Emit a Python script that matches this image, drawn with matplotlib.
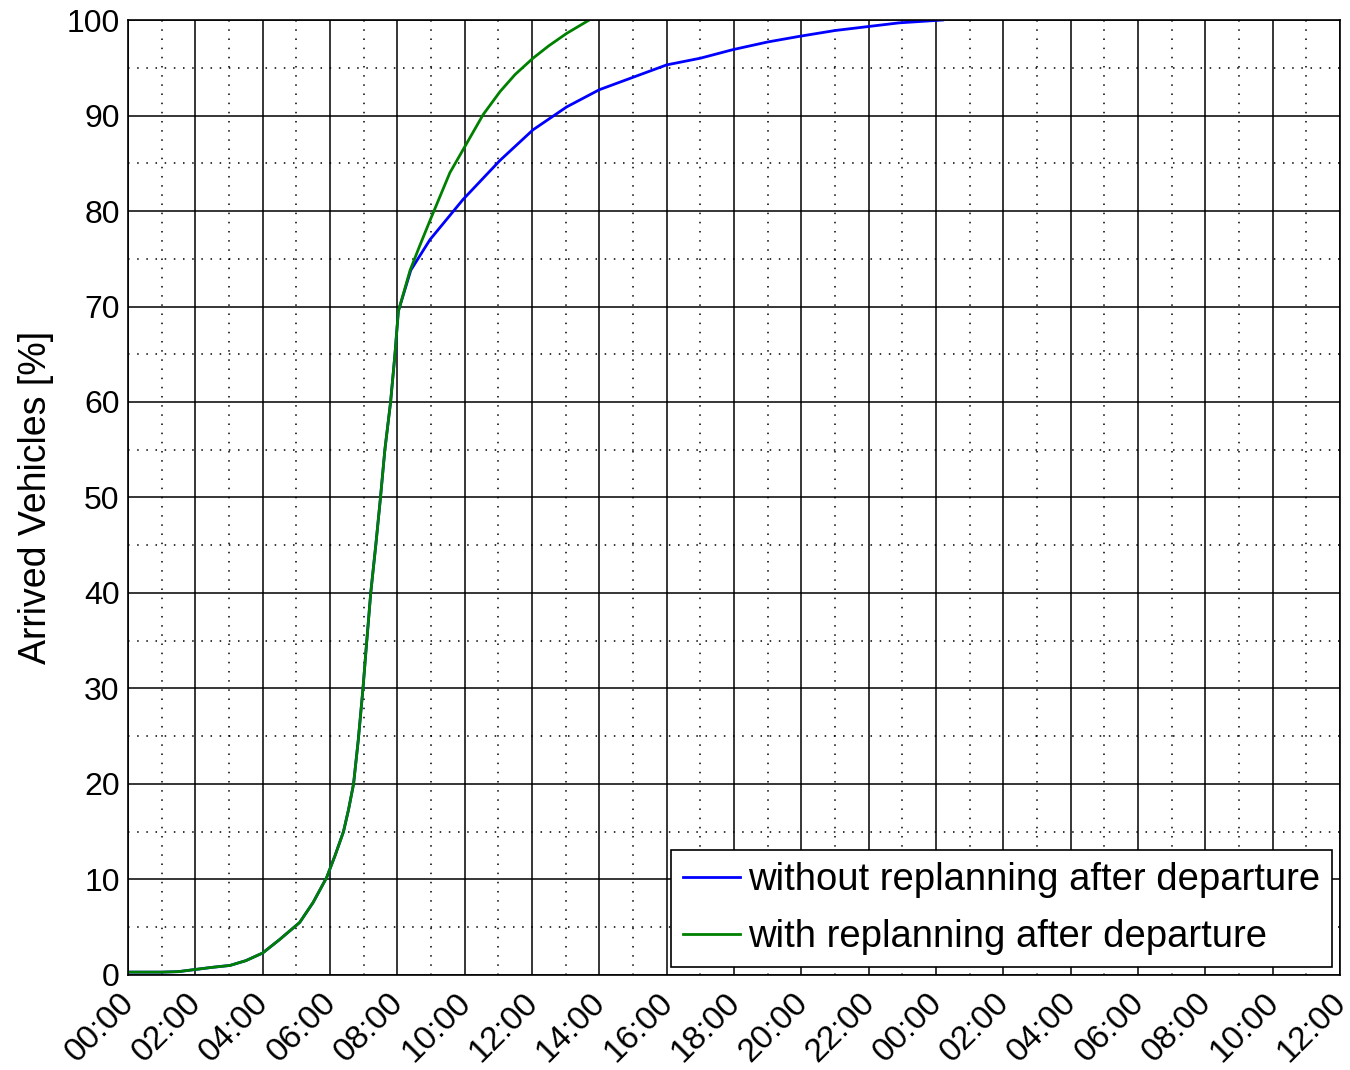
import matplotlib
matplotlib.use("Agg")
import matplotlib.pyplot as plt
from matplotlib.ticker import MultipleLocator
from matplotlib.transforms import ScaledTranslation

plt.rcParams["font.family"] = ["Liberation Sans", "DejaVu Sans"]

# shared part (both runs identical until ~08:00), hours since 00:00 -> % arrived
shared_h = [0.0, 1.0, 1.5, 2.05, 2.5, 3.03, 3.5, 4.0, 4.5, 5.1, 5.5, 5.9,
            6.15, 6.4, 6.55, 6.7, 6.84, 6.98, 7.07, 7.21, 7.36, 7.5, 7.63,
            7.8, 7.93, 8.03]
shared_pct = [0.3, 0.3, 0.35, 0.6, 0.8, 1.0, 1.5, 2.3, 3.7, 5.5, 7.6, 10.2,
              12.5, 15.0, 17.3, 20.0, 24.6, 30.0, 34.0, 40.0, 45.0, 50.0, 55.0,
              60.0, 65.0, 69.5]

# without replanning after departure (continues after 08:00)
blue_h = [8.4, 8.97, 9.95, 11.05, 12.03, 13.03, 14.0, 15.0, 16.0, 17.0,
          17.97, 19.0, 19.96, 21.0, 21.95, 22.9, 24.2]
blue_pct = [73.8, 77.0, 81.2, 85.3, 88.5, 90.9, 92.7, 94.0, 95.3, 96.0,
            96.9, 97.7, 98.3, 98.9, 99.3, 99.7, 100.0]

# with replanning after departure
green_h = [8.38, 8.67, 8.97, 9.56, 9.95, 10.55, 11.05, 11.5, 12.03, 12.5,
           13.03, 13.7]
green_pct = [73.8, 76.4, 79.0, 84.0, 86.4, 90.1, 92.5, 94.3, 96.0, 97.3,
             98.6, 100.0]

tick_hours = list(range(0, 37, 2))
tick_labels = [f"{h % 24:02d}:00" for h in tick_hours]

fig = plt.figure(figsize=(13.5, 10.7), dpi=100)
ax = fig.add_axes([0.0948, 0.0888, 0.8978, 0.8925])

ax.plot(shared_h + blue_h, shared_pct + blue_pct, color="#0000ff", lw=2,
        label="without replanning after departure")
ax.plot(shared_h + green_h, shared_pct + green_pct, color="#008000", lw=2,
        label="with replanning after departure")

ax.set_xlim(0, 36)
ax.set_ylim(0, 100)
ax.set_xticks(tick_hours)
ax.set_xticklabels(tick_labels, rotation=45, ha="right", va="center",
                   rotation_mode="anchor")
ax.xaxis.set_minor_locator(MultipleLocator(1))
ax.yaxis.set_major_locator(MultipleLocator(10))
ax.yaxis.set_minor_locator(MultipleLocator(5))
ax.tick_params(axis="both", which="both", length=0)
ax.tick_params(axis="y", pad=6, labelsize=23)
ax.tick_params(axis="x", pad=17, labelsize=24)
shift = ScaledTranslation(1 / 72, 0, fig.dpi_scale_trans)
for lab in ax.get_xticklabels():
    lab.set_transform(lab.get_transform() + shift)

ax.grid(which="major", color="black", lw=1.1, ls="-")
ax.grid(which="minor", color="black", lw=1.1, ls=(0, (1, 5)))
ax.set_axisbelow(True)
for s in ax.spines.values():
    s.set_linewidth(1.2)

ax.set_ylabel("Arrived Vehicles [%]", fontsize=27, labelpad=9)

leg = ax.legend(loc="lower right", fontsize=27.5, frameon=True, fancybox=False,
                framealpha=1, edgecolor="black", handlelength=1.5,
                handletextpad=0.2, borderpad=0.32, labelspacing=0.55,
                borderaxespad=0.2)
leg.get_frame().set_linewidth(1.2)

fig.savefig("out.png", dpi=100)
